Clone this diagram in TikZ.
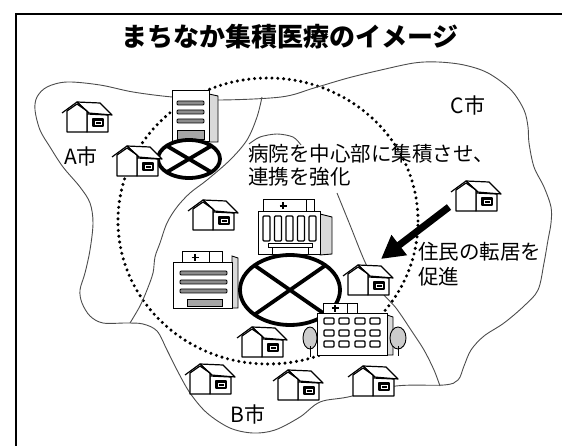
\documentclass[tikz,border=0pt]{standalone}
\usepackage{fontspec}
\newfontfamily\jp{Noto Sans CJK JP}
\usetikzlibrary{arrows.meta}
\tikzset{
  hline/.style={draw=black, line width=1.2pt, line join=round},
  house/.pic={
    % side wing with its roof
    \draw[hline, fill=white] (25,12) -- (46,13) -- (46,30) -- (25,30) -- cycle;
    \draw[hline, fill=white] (15,0) -- (38,1) -- (50,13) -- (26,11) -- cycle;
    % gable front
    \draw[hline, fill=white] (5,30) -- (5,9) -- (15,2) -- (25,9) -- (25,30) -- cycle;
    \draw[hline] (0,11) -- (15,0) -- (27,11);
    % window
    \draw[hline, fill=black] (31,17) rectangle (41,24);
    \draw[white, line width=0.7pt] (33,19) rectangle (39,22);
  },
}
\begin{document}
\begin{tikzpicture}[x=1pt, y=-1pt,
  frameline/.style={draw=black, line width=1.2pt},
  ring/.style={draw=black, line width=3.4pt, dash pattern=on 0pt off 5.8pt, line cap=round},
  border/.style={draw=black!70, line width=0.9pt},
  ovalx/.style={draw=black, line width=3.8pt},
  face/.style={draw=black, line width=1pt, fill=white},
  sideface/.style={draw=black, line width=0.9pt, fill=black!15},
  band/.style={draw=black, line width=0.9pt, fill=black!45, rounded corners=1pt},
  hatch/.style={draw=black, line width=0.9pt, fill=black!35},
  win/.style={draw=black, line width=1.1pt, fill=white, rounded corners=1pt},
  plus/.style={draw=black, line width=1.5pt},
  tree/.style={draw=black, line width=0.9pt, fill=black!20},
  titletext/.style={font=\jp\bfseries\fontsize{26}{29}\selectfont, inner sep=0pt},
  note/.style={font=\jp\fontsize{20.5}{24}\selectfont, inner sep=0pt, anchor=west},
  citytext/.style={font=\jp\fontsize{21}{24}\selectfont, inner sep=0pt},
  move/.style={line width=7pt, draw=black, -{Triangle[length=23pt, width=24pt]}},
]
\useasboundingbox (0,0) rectangle (562,446);

% frame
\draw[frameline] (16,446) -- (16,14) -- (562,14);

% title
\node[titletext] (title) at (290,37) {まちなか集積医療のイメージ};

% service ring
\draw[ring] (268,221) ellipse [x radius=150pt, y radius=143pt];

% outer boundary of the three cities
\draw[border] plot[smooth cycle, tension=0.55] coordinates {(172,97) (133,92) (100,85) (67,82) (47,87) (37,97) (35,110) (40,130) (50,147) (63,167) (80,187) (90,203) (93,223) (90,250) (85,273) (80,290) (82,303) (90,316) (103,323) (127,323) (143,324) (157,331) (167,350) (177,370) (190,393) (207,413) (230,428) (253,433) (275,430) (300,417) (320,402) (348,397) (396,386) (444,385) (458,380) (464,366) (471,350) (484,336) (504,323) (524,306) (538,290) (544,263) (548,240) (551,223) (551,207) (544,187) (534,167) (529,143) (528,127) (524,110) (511,90) (488,73) (464,65) (438,62) (414,63) (381,70) (348,78) (314,88) (281,97) (217,100)};

% city borders
\draw[border] plot[smooth, tension=0.55] coordinates {(262,97) (257,117) (247,140) (230,160) (207,180) (190,193) (177,207) (167,223) (160,243) (155,257) (153,273) (147,290) (140,306) (130,323)};
\draw[border] plot[smooth] coordinates {(249,144) (260,137) (277,134) (293,137) (301,145)};
\draw[border] plot[smooth] coordinates {(337,193) (350,225) (365,262) (380,290) (396,308) (411,330) (424,350) (434,370) (440,386)};

% hospital in city A
\draw[sideface] (209,94) -- (218,96) -- (218,142) -- (209,142) -- cycle;
\draw[face] (172,91) rectangle (209,142);
\foreach \yy in {101,110,119} \draw[band] (177,\yy) rectangle (204,\yy+4);
\draw[hatch] (177,130) rectangle (204,139);
\draw[ovalx] (189,159) ellipse [x radius=31pt, y radius=19pt];
\draw[ovalx] (167,146) -- (211,172) (167,172) -- (211,146);

% central hospital, rear
\draw[sideface] (320,214) -- (332,217) -- (332,254) -- (320,255) -- cycle;
\draw[face] (263,200) rectangle (314,212);
\draw[black, line width=0.8pt] (306,200) -- (306,212);
\draw[plus] (283,202.5) -- (283,209.5) (279.5,206) -- (286.5,206);
\draw[face] (258,212) rectangle (320,255);
\foreach \xx in {263,274.5,286,297.5,309} \draw[win] (\xx,216) rectangle (\xx+7,241);
\draw[face] (268,244) rectangle (312,248);
\draw[black, line width=0.8pt] (272,248) -- (272,254) (308,248) -- (308,254);

% central hospital, left
\draw[sideface] (232,256) -- (238,258) -- (238,308) -- (232,308) -- cycle;
\draw[face] (182,252) rectangle (222,263);
\draw[black, line width=0.8pt] (209,252) -- (209,263);
\draw[plus] (195,254) -- (195,261) (191.5,257.5) -- (198.5,257.5);
\draw[face] (173,263) rectangle (232,308);
\foreach \yy in {271,280,289} \draw[band] (180,\yy) rectangle (227,\yy+4);
\draw[hatch] (187,299) rectangle (222,306);

% central cross
\draw[ovalx] (290,290) ellipse [x radius=50pt, y radius=35pt];
\draw[ovalx] (254,265) -- (326,315) (254,315) -- (326,265);

% central hospital, front
\draw[sideface] (387,315) -- (393,317) -- (393,355) -- (387,355) -- cycle;
\draw[face] (323,303) rectangle (357,313);
\draw[black, line width=0.8pt] (347,303) -- (347,313);
\draw[plus] (335,304.5) -- (335,311.5) (331.5,308) -- (338.5,308);
\draw[face] (317,313) rectangle (387,355);
\foreach \xx in {329,344,360,375} \foreach \yy in {321,333,344} \draw[win] (\xx-5,\yy-3) rectangle (\xx+5,\yy+3);

% trees
\draw[tree] (310,338) ellipse [x radius=7pt, y radius=11pt];
\draw[black, line width=1pt] (310,346) -- (310,357);
\draw[tree] (398,338) ellipse [x radius=8pt, y radius=11pt];
\draw[black, line width=1pt] (398,346) -- (398,356);

% houses
\foreach \hx/\hy in {62/102, 112/146, 451/181, 188/200, 343/265, 237/327, 185/364, 273/370, 348/366}
  \pic at (\hx,\hy) {house};

% labels
\node[citytext] (cityA) at (81,157) {A市};
\node[citytext] (cityB) at (248,414) {B市};
\node[citytext] (cityC) at (468,106) {C市};
\node[note] (aim1) at (248,154) {病院を中心部に集積させ、};
\node[note] (aim2) at (248,177) {連携を強化};
\node[note] (move1) at (418,252) {住民の転居を};
\node[note] (move2) at (418,277) {促進};

% migration arrow
\coordinate (from) at (449,207);
\coordinate (to) at (381,259);
\draw[move] (from) -- (to);
\end{tikzpicture}
\end{document}
